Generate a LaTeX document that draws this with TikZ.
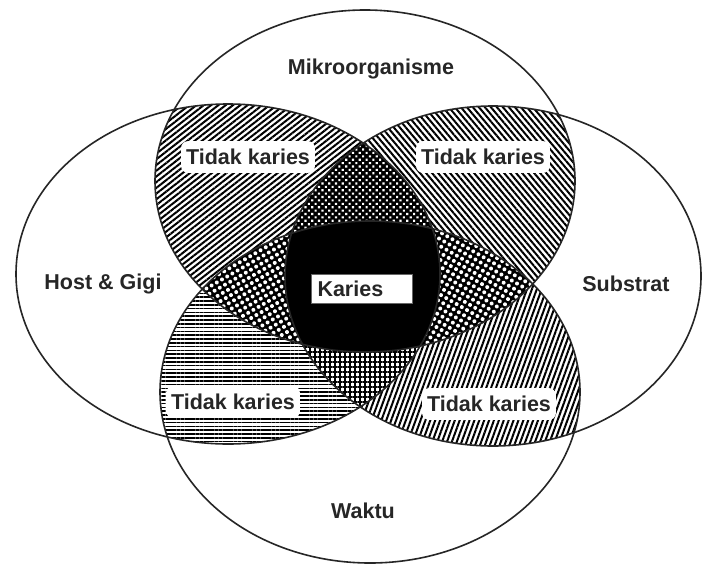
\documentclass[tikz,border=0pt]{standalone}
\usepackage{fontspec}
\setmainfont{Liberation Sans}
\usetikzlibrary{patterns.meta}
\begin{document}
\begin{tikzpicture}[x=1pt,y=-1pt,
  lbl/.style={font=\fontsize{21.5}{24}\selectfont\bfseries, text=black!85},
  tk/.style={lbl, fill=white, rounded corners=7pt, inner xsep=5pt, inner ysep=8pt},
  outline/.style={line width=1.6pt, black!85}]
\useasboundingbox (0,0) rectangle (703,567);
\fill[white] (0,0) rectangle (703,567);
\def\pT{(365,181) ellipse [x radius=210pt, y radius=171pt]}
\def\pL{(228,274) ellipse [x radius=212pt, y radius=170pt]}
\def\pR{(493,276) ellipse [x radius=208pt, y radius=170pt]}
\def\pB{(370,392) ellipse [x radius=210pt, y radius=171pt]}
% two-way intersections
\begin{scope}\clip \pT; \fill[pattern={Lines[angle=38,distance=4.5pt,line width=2pt]}] \pL;\end{scope}
\begin{scope}\clip \pT; \fill[pattern={Lines[angle=-50,distance=4.6pt,line width=2pt]}] \pR;\end{scope}
\begin{scope}\clip \pL; \fill[pattern={Lines[angle=0,distance=3.8pt,line width=1.6pt]}] \pB;\end{scope}
\begin{scope}\clip \pR; \fill[pattern={Lines[angle=70,distance=4.6pt,line width=2pt]}] \pB;\end{scope}
% three-way intersections
\begin{scope}\clip \pT; \clip \pL; \fill[black] \pR;
  \fill[pattern={Dots[distance=4.8pt,radius=1.5pt,angle=45]},pattern color=white] \pR;\end{scope}
\begin{scope}\clip \pT; \clip \pL; \fill[black] \pB;
  \fill[pattern={Dots[distance=6pt,radius=2pt,angle=30]},pattern color=white] \pB;\end{scope}
\begin{scope}\clip \pT; \clip \pR; \fill[black] \pB;
  \fill[pattern={Dots[distance=6pt,radius=2pt,angle=60]},pattern color=white] \pB;\end{scope}
\begin{scope}\clip \pL; \clip \pR; \fill[white] \pB;
  \fill[pattern={Hatch[distance=5pt,line width=1.8pt,angle=0]}] \pB;\end{scope}
% four-way
\begin{scope}\clip \pT; \clip \pL; \clip \pR; \fill[black] \pB;\end{scope}
% outlines
\draw[outline] \pT; \draw[outline] \pL; \draw[outline] \pR; \draw[outline] \pB;
% labels
\node[lbl] (mikro) at (371,69) {Mikroorganisme};
\node[lbl] (host) at (103,284) {Host \& Gigi};
\node[lbl] (sub) at (626,284) {Substrat};
\node[lbl] (waktu) at (363,511) {Waktu};
\node[tk] (tl) at (248,157) {Tidak karies};
\node[tk] (tr) at (483,157) {Tidak karies};
\node[tk] (bl) at (233,402) {Tidak karies};
\node[tk] (br) at (489,404) {Tidak karies};
\node[lbl, fill=white, draw=black!60, line width=1pt, text width=89pt, inner xsep=6pt, minimum height=29pt, align=left] (kar) at (362,289) {Karies};
\end{tikzpicture}
\end{document}
